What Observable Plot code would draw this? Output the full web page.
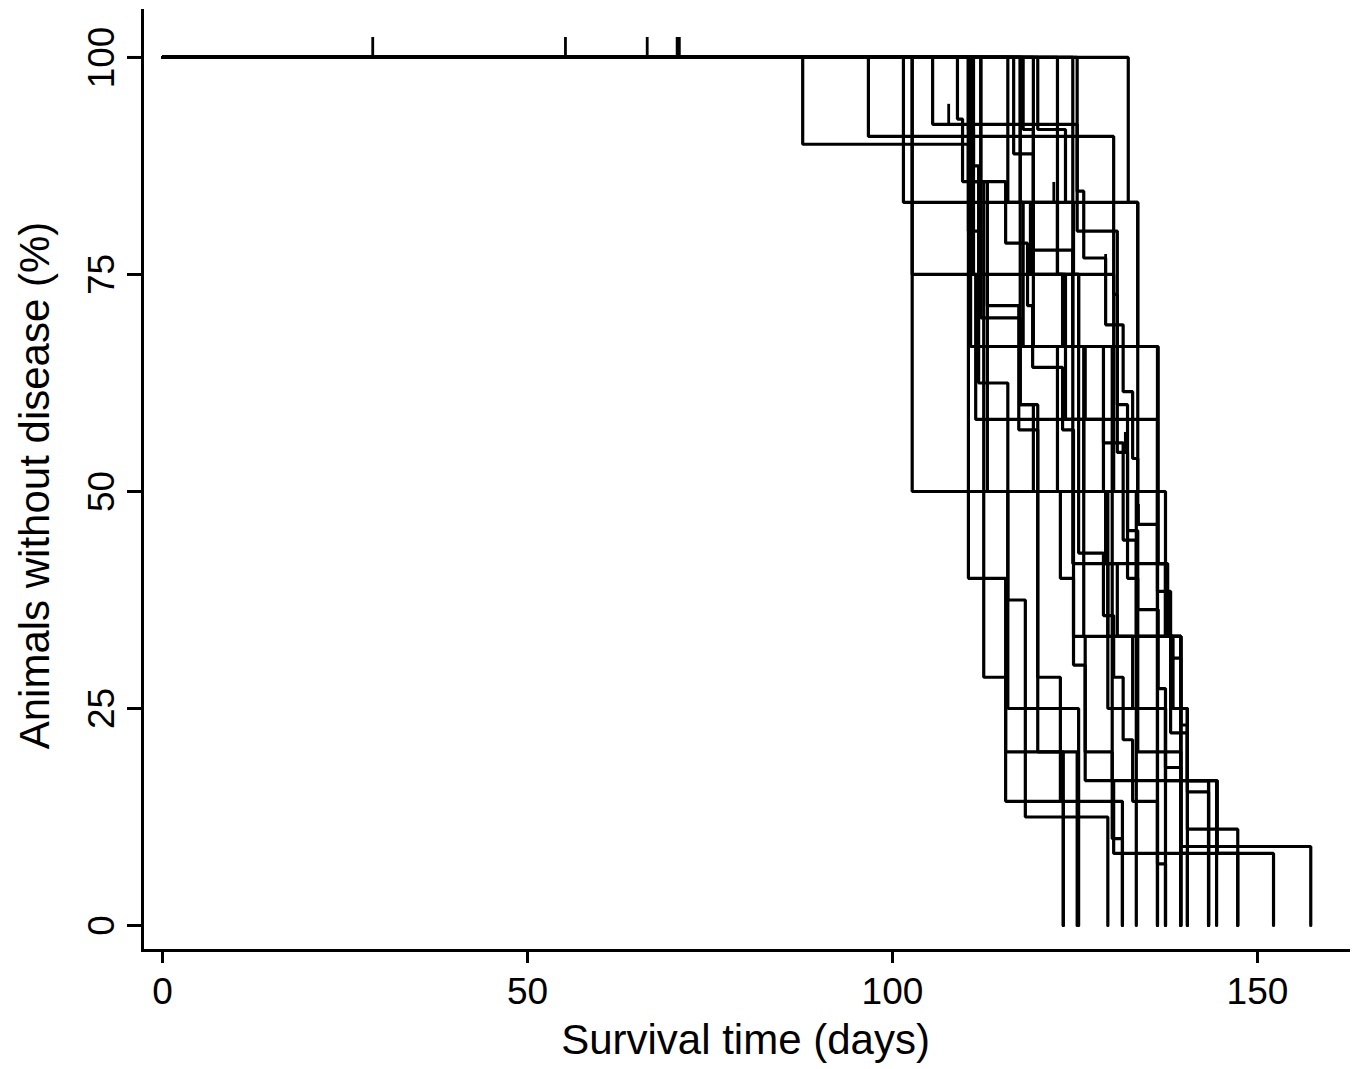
<!DOCTYPE html>
<html><head><meta charset="utf-8">
<script src="https://cdn.jsdelivr.net/npm/d3@7"></script>
<script src="https://cdn.jsdelivr.net/npm/@observablehq/plot@0.6"></script>
<style>body{margin:0;background:#fff}</style>
</head><body><div id="chart"></div>
<script>
// Kaplan-Meier steps per group: [day, % without disease after the event]
const cA = [[87.7,90],[110.4,80],[112.1,70],[117.5,60],[119.3,50],[123.0,40],[124.8,30],[126.4,20],[130.1,10],[131.5,0]];
const cB = [[96.7,90.9],[130.3,72.7],[130.8,54.5],[132.2,45.5],[133.6,36.4],[136.4,27.3],[137.4,18.2],[139.5,9.1],[157.3,0]];
const cC = [[101.5,83.3],[133.6,66.7],[136.4,41.7],[137.7,33.3],[138.4,25],[140.4,16.7],[144.5,8.3],[147.3,0]];
const cD = [[102.7,50],[136.3,0]];
const cE = [[102.7,75],[130.3,50],[133.4,25],[137.4,0]];
const cF = [[105.5,92.3],[125.3,84.6],[126.2,76.9],[129.2,69.2],[131.6,61.5],[132.9,53.8],[133.6,46.2],[136.3,38.5],[138.1,30.8],[139.5,23.1],[140.4,15.4],[143.3,0]];
const cG = [[110.4,85.7],[112.5,28.6],[115.5,14.3],[123.4,0]];
const cH = [[110.4,40],[115.5,20],[125.3,0]];
const cI = [[111.1,87.5],[111.8,62.5],[115.8,37.5],[118.2,12.5],[129.5,0]];
const cJ = [[112.1,85.7],[113.0,71.4],[117.3,57.1],[119.9,28.6],[123.0,14.3],[131.5,0]];
const cK = [[115.8,83.3],[117.9,66.7],[122.6,50],[124.8,33.3],[126.4,16.7],[144.4,0]];
const cL = [[116.6,88.9],[119.3,77.8],[124.7,66.7],[128.9,55.6],[131.6,44.4],[133.4,33.3],[138.1,22.2],[140.4,11.1],[147.3,0]];
const cM = [[117.5,83.3],[118.9,75],[123.7,58.3],[126.2,50],[129.2,41.7],[130.8,33.3],[132.9,25],[137.4,16.7],[139.5,8.3],[140.4,0]];
const cN = [[122.6,75],[125.5,50],[129.5,25],[133.4,0]];
const cO = [[124.7,66.7],[130.1,33.3],[136.3,0]];
const cP = [[125.3,80],[130.8,60],[132.2,40],[133.6,20],[139.5,0]];
const cR = [[132.3,83.3],[133.6,50],[137.4,33.3],[139.5,16.7],[143.3,0]];
const cS = [[108.9,92.9],[109.6,85.7],[115.5,78.6],[118.5,71.4],[119.2,64.3],[123.3,57.1],[124.8,50],[125.5,42.9],[128.9,35.7],[130.3,28.6],[131.6,21.4],[132.9,14.3],[136.3,7.1],[137.4,0]];
const cU = [[110.7,66.7],[136.3,33.3],[139.5,0]];
const cV = [[110.4,91.7],[111.1,75],[111.4,58.3],[136.3,41.7],[137.4,33.3],[139.5,25],[140.4,16.7],[143.3,0]];
const cW = [[119.9,91.7],[123.7,83.3],[124.8,75],[125.5,66.7],[126.4,58.3],[128.9,50],[129.2,41.7],[129.5,33.3],[130.1,16.7],[130.3,8.3],[152.2,0]];
const cX = [[112.1,75],[113.0,50],[115.8,25],[125.5,0]];
const cY = [[117.5,60],[119.9,20],[123.4,0]];
const cZ = [[117.9,91.7],[119.3,83.3],[122.6,75],[123.3,66.7],[124.7,41.7],[137.4,33.3],[138.4,25],[140.4,0]];
const cZ2 = [[119.3,66.7],[126.2,33.3],[139.5,0]];

// censored observations [day, %]
const censored = [[28.8,100],[55.2,100],[66.4,100],[70.5,100],[70.8,100],[107.7,92.3],[122.1,83.3],[129.2,75],[131.9,54.5],[133.7,46.2]];

const xTicks = [0,50,100,150];
const yTicks = [0,25,50,75,100];

const curves = {cA,cB,cC,cD,cE,cF,cG,cH,cI,cJ,cK,cL,cM,cN,cO,cP,cR,cS,cU,cV,cW,cX,cY,cZ,cZ2};
const rows = Object.entries(curves).flatMap(([id, pts]) =>
  [[0,100], ...pts].map(([day, pct]) => ({id, day, pct})));

const chart = Plot.plot({
  width: 1358, height: 1069,
  marginLeft: 142, marginRight: 10, marginTop: 10, marginBottom: 119,
  x: {domain: [-2.74, 162.47]},
  y: {domain: [-2.88, 105.41]},
  style: {fontFamily: "'Liberation Sans', Arial, sans-serif", background: "#fff", color: "#000"},
  marks: [
    Plot.line(rows, {x: "day", y: "pct", z: "id", curve: "step-after", stroke: "#000", strokeWidth: 3.2, strokeLinejoin: "miter"}),
    Plot.ruleX(censored, {x: d => d[0], y1: d => d[1], y2: d => d[1] + 2.3, stroke: "#000", strokeWidth: 2.8}),
    Plot.frame({anchor: "left", strokeWidth: 3}),
    Plot.frame({anchor: "bottom", strokeWidth: 3}),
    Plot.axisX({ticks: xTicks, tickSize: 13, tickPadding: 14, strokeWidth: 3, fontSize: 37, label: null}),
    Plot.axisY({ticks: yTicks, tickSize: 15, strokeWidth: 3, tickFormat: () => "", label: null}),
    Plot.text(yTicks, {y: d => d, text: d => String(d), frameAnchor: "left", dx: -40, rotate: -90, textAnchor: "middle", lineAnchor: "middle", fontSize: 37}),
    Plot.text(["Animals without disease (%)"], {text: d => d, frameAnchor: "left", dx: -107, dy: 5, rotate: -90, textAnchor: "middle", lineAnchor: "middle", fontSize: 42}),
    Plot.text(["Survival time (days)"], {text: d => d, frameAnchor: "bottom", dy: 90, textAnchor: "middle", lineAnchor: "middle", fontSize: 42})
  ]
});
document.getElementById("chart").appendChild(chart);
</script>
</body></html>
